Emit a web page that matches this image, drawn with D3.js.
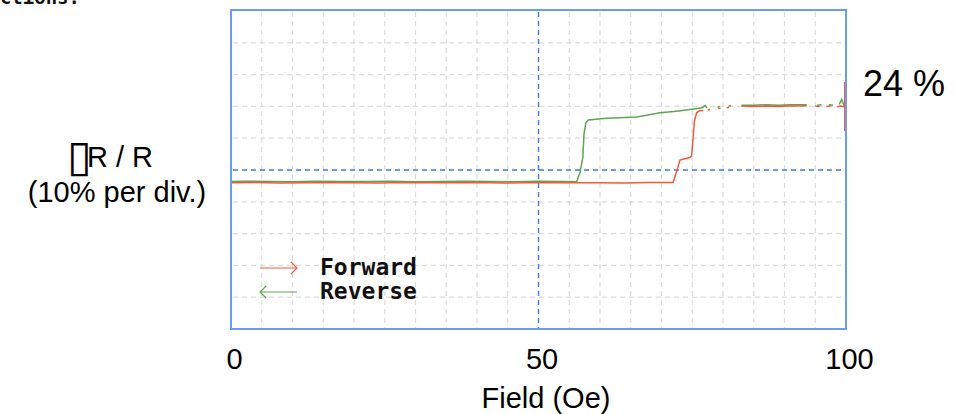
<!DOCTYPE html>
<html>
<head>
<meta charset="utf-8">
<script src="https://cdn.jsdelivr.net/npm/d3@7"></script>
<style>
  html, body { margin: 0; padding: 0; background: #ffffff; }
  svg { display: block; }
</style>
</head>
<body>
<svg id="chart" width="963" height="414"></svg>
<script>
// Forward sweep (0 -> 100 Oe): field in Oe, change of resistance in %
const forwardField = [0,4,8,12,16,20,24,28,32,36,40,44,48,52,56,60,64,68,
  71.9,72.5,73.0,74.6,74.9,75.1,75.35,75.7,76.15,76.8,
  77.2, 77.5,77.9, 78.2, 79.2,79.6, 79.9, 80.6,81.0, 81.5,
  83.0,85.0,87.0,89.0,91.0,93.6, 94.2, 95.0,95.7, 96.2, 96.8,97.5, 98.0,
  98.6,99.2,99.6,99.8,99.8,99.8,99.8];
const forwardDR = [0,0.1,-0.1,0,0.1,0,-0.1,0.1,0,0,0.1,-0.1,0,0.1,0,0,-0.1,0.1,
  0.1,3.8,7.1,7.9,8.5,13.2,19.4,22.0,22.6,22.7,
  null, 22.9,23.0, null, 23.3,23.4, null, 23.6,23.7, null,
  24.1,24.0,24.1,24.0,24.1,24.2, null, 24.1,24.0, null, 24.0,24.1, null,
  23.9,24.1,23.9,24.0,31.7,16.3,24.0];

// Reverse sweep (100 -> 0 Oe)
const reverseField = [99.7,99.3,98.9, 98.5, 97.9,97.2, 96.6, 96.0,95.3, 94.6,
  93.6,91.0,89.0,87.0,85.0,83.0, 82.0, 81.3,80.9, 80.2, 79.5,79.1, 78.5,
  77.4,77.1,76.6,74.1,72.0,69.8,66.0,61.1,58.1,57.7,57.4,57.2,56.75,56.2,
  54,50,46,42,38,34,30,26,22,18,14,10,6,2,0];
const reverseDR = [24.2,26.2,24.6, null, 24.4,24.5, null, 24.5,24.4, null,
  24.5,24.5,24.4,24.5,24.4,24.4, null, 24.2,24.1, null, 23.9,23.8, null,
  23.6,24.3,23.6,22.9,22.4,22.0,20.7,20.3,19.7,18.9,15.3,7.9,3.2,0.3,
  0.4,0.5,0.3,0.4,0.5,0.4,0.3,0.5,0.4,0.4,0.5,0.3,0.4,0.5,0.4];

const xTicks = [0, 50, 100];
const seriesNames = ["Forward", "Reverse"];
const seriesColors = ["#f4583a", "#5fa452"];
const xRefLine = 50;       // vertical reference marker (Oe)
const yRefLine = 4;        // horizontal reference marker (%)
const stepLabel = "24 %";

const svg = d3.select("#chart");
const plot = { left: 231, right: 846, top: 10, bottom: 329 };

const x = d3.scaleLinear().domain([0, 100]).range([plot.left, plot.right]);
const y = d3.scaleLinear().domain([-46, 54]).range([plot.bottom, 11]);

// heading above the panel, running off the top edge
svg.append("text")
  .attr("x", 80).attr("y", 4)
  .attr("text-anchor", "end")
  .attr("font-family", "DejaVu Sans Mono, monospace")
  .attr("font-weight", "bold")
  .attr("font-size", 19)
  .attr("fill", "#111")
  .text("Directions:");

// grid: every 5 Oe horizontally, every 10 % vertically
const grid = svg.append("g").attr("stroke", "#dcdcdc").attr("stroke-width", 1.2)
  .attr("stroke-dasharray", "5,4");
d3.range(5, 100, 5).filter(v => v !== xRefLine).forEach(v => {
  grid.append("line")
    .attr("x1", x(v)).attr("x2", x(v))
    .attr("y1", plot.top + 2).attr("y2", plot.bottom);
});
d3.range(-36, 54, 10).filter(v => v !== yRefLine).forEach(v => {
  grid.append("line")
    .attr("x1", plot.left + 2).attr("x2", plot.right)
    .attr("y1", y(v)).attr("y2", y(v));
});

// blue reference markers
const ref = svg.append("g").attr("stroke", "#3a7be6").attr("stroke-width", 1.4)
  .attr("stroke-dasharray", "5,4");
ref.append("line")
  .attr("x1", x(xRefLine)).attr("x2", x(xRefLine))
  .attr("y1", plot.top + 2).attr("y2", plot.bottom);
ref.append("line")
  .attr("x1", plot.left + 2).attr("x2", plot.right)
  .attr("y1", y(yRefLine)).attr("y2", y(yRefLine));

// data traces
const line = d3.line()
  .defined(d => d[1] !== null)
  .x(d => x(d[0]))
  .y(d => y(d[1]));

const reverseData = d3.zip(reverseField, reverseDR);
const forwardData = d3.zip(forwardField, forwardDR);

svg.append("path")
  .datum(reverseData)
  .attr("fill", "none")
  .attr("stroke", seriesColors[1])
  .attr("stroke-width", 1.5)
  .attr("d", line);

svg.append("path")
  .datum(forwardData)
  .attr("fill", "none")
  .attr("stroke", seriesColors[0])
  .attr("stroke-width", 1.5)
  .attr("d", line);

// panel frame
svg.append("rect")
  .attr("x", plot.left).attr("y", plot.top)
  .attr("width", plot.right - plot.left).attr("height", plot.bottom - plot.top)
  .attr("fill", "none")
  .attr("stroke", "#6a9cf0")
  .attr("stroke-width", 2);

// legend with direction arrows
const legend = svg.append("g");
const legendRows = [
  { name: seriesNames[0], color: seriesColors[0], y: 268, dir: 1 },
  { name: seriesNames[1], color: seriesColors[1], y: 292, dir: -1 }
];
legendRows.forEach(r => {
  const x0 = 260, x1 = 297;
  legend.append("line")
    .attr("x1", x0).attr("x2", x1).attr("y1", r.y).attr("y2", r.y)
    .attr("stroke", r.color).attr("stroke-width", 1.2);
  const tip = r.dir > 0 ? x1 : x0;
  legend.append("path")
    .attr("d", `M${tip - r.dir * 6},${r.y - 6}L${tip},${r.y}L${tip - r.dir * 6},${r.y + 6}`)
    .attr("fill", "none").attr("stroke", r.color).attr("stroke-width", 1.2);
  legend.append("text")
    .attr("x", 320).attr("y", r.y + 7)
    .attr("font-family", "DejaVu Sans Mono, monospace")
    .attr("font-weight", "bold")
    .attr("font-size", 23)
    .attr("fill", "#111")
    .text(r.name);
});

// x axis labels
const xAxis = svg.append("g")
  .attr("transform", `translate(0,${plot.bottom})`)
  .call(d3.axisBottom(x).tickValues(xTicks).tickSize(0).tickPadding(19));
xAxis.select(".domain").remove();
xAxis.selectAll("text")
  .attr("dx", 3)
  .attr("font-family", "Liberation Sans, Arial, sans-serif")
  .attr("font-size", 29)
  .attr("fill", "#000");

svg.append("text")
  .attr("x", 546).attr("y", 408)
  .attr("text-anchor", "middle")
  .attr("font-family", "Liberation Sans, Arial, sans-serif")
  .attr("font-size", 29)
  .text("Field (Oe)");

// y axis title: placeholder box glyph followed by "R / R"
svg.append("text")
  .attr("transform", "translate(67,171) scale(1.5,1.45)")
  .attr("font-family", "DejaVu Sans, sans-serif")
  .attr("font-size", 30)
  .attr("fill", "#000")
  .text("\u25AF");
svg.append("text")
  .attr("x", 87).attr("y", 167)
  .attr("font-family", "Liberation Sans, Arial, sans-serif")
  .attr("font-size", 29)
  .text("R / R");

svg.append("text")
  .attr("x", 117).attr("y", 202)
  .attr("text-anchor", "middle")
  .attr("font-family", "Liberation Sans, Arial, sans-serif")
  .attr("font-size", 29)
  .text("(10% per div.)");

// step-size annotation
svg.append("text")
  .attr("x", 863).attr("y", 96)
  .attr("font-family", "Liberation Sans, Arial, sans-serif")
  .attr("font-size", 36)
  .text(stepLabel);
</script>
</body>
</html>
